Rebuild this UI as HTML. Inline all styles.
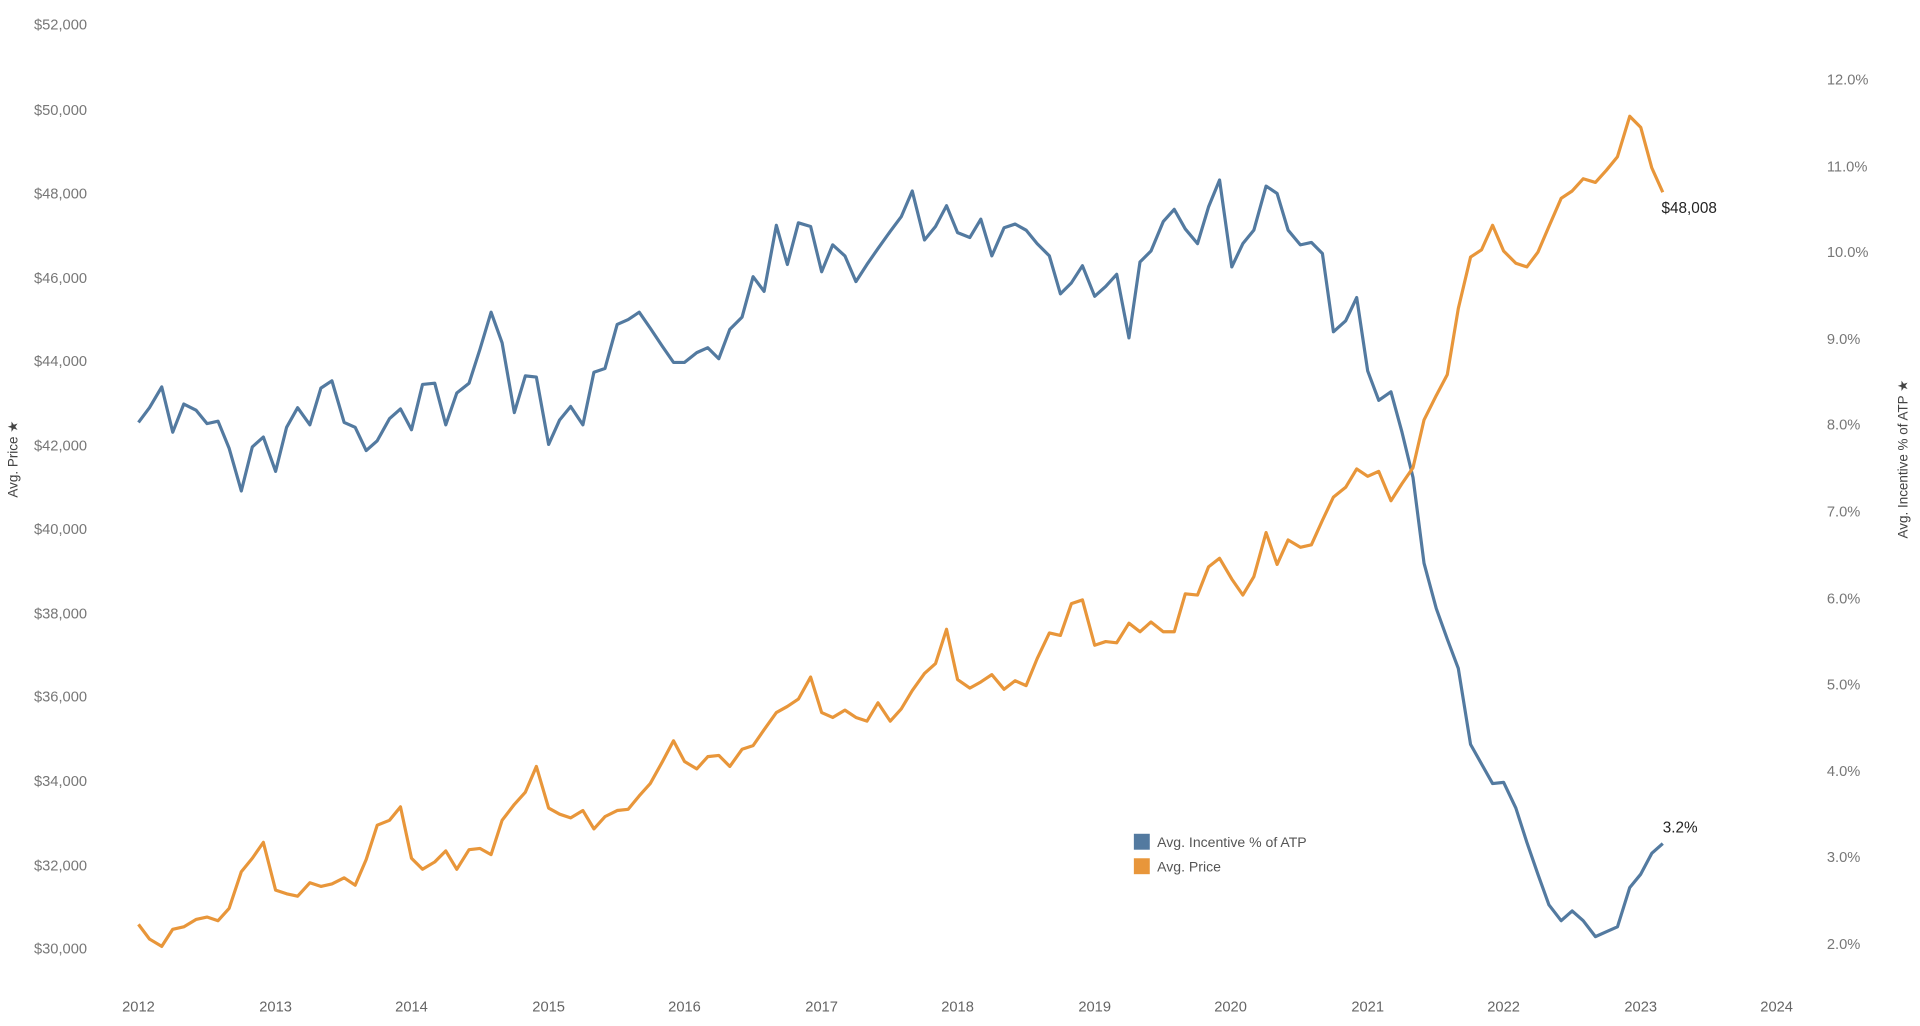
<!DOCTYPE html>
<html><head><meta charset="utf-8"><style>
html,body{margin:0;padding:0;background:#fff;}
svg{display:block;}
text{font-family:"Liberation Sans",sans-serif;}
</style></head><body>
<svg width="1920" height="1026" viewBox="0 0 1568 838" xmlns="http://www.w3.org/2000/svg">
<g font-size="12" fill="#777" text-anchor="end">
<text x="71" y="24">$52,000</text>
<text x="71" y="94">$50,000</text>
<text x="71" y="162">$48,000</text>
<text x="71" y="231">$46,000</text>
<text x="71" y="299">$44,000</text>
<text x="71" y="368">$42,000</text>
<text x="71" y="436">$40,000</text>
<text x="71" y="505">$38,000</text>
<text x="71" y="573">$36,000</text>
<text x="71" y="642">$34,000</text>
<text x="71" y="711">$32,000</text>
<text x="71" y="779">$30,000</text>
</g>
<g font-size="12" fill="#777" text-anchor="start">
<text x="1492" y="69">12.0%</text>
<text x="1492" y="140">11.0%</text>
<text x="1492" y="210">10.0%</text>
<text x="1492" y="281">9.0%</text>
<text x="1492" y="351">8.0%</text>
<text x="1492" y="422">7.0%</text>
<text x="1492" y="493">6.0%</text>
<text x="1492" y="563">5.0%</text>
<text x="1492" y="634">4.0%</text>
<text x="1492" y="704">3.0%</text>
<text x="1492" y="775">2.0%</text>
</g>
<g font-size="12" fill="#666" text-anchor="middle">
<text x="113" y="826">2012</text><text x="225" y="826">2013</text><text x="336" y="826">2014</text>
<text x="448" y="826">2015</text><text x="559" y="826">2016</text><text x="671" y="826">2017</text>
<text x="782" y="826">2018</text><text x="894" y="826">2019</text><text x="1005" y="826">2020</text>
<text x="1117" y="826">2021</text><text x="1228" y="826">2022</text><text x="1340" y="826">2023</text>
<text x="1451" y="826">2024</text>
</g>
<text transform="translate(14,375) rotate(-90)" font-size="11" fill="#444" text-anchor="middle">Avg. Price ★</text>
<text transform="translate(1558,375) rotate(-90)" font-size="11" fill="#444" text-anchor="middle">Avg. Incentive % of ATP ★</text>
<polyline fill="none" stroke="#537aa0" stroke-width="2.6" stroke-linejoin="round" points="113,345 122,333 132,316 141,353 150,330 160,335 169,346 178,344 187,366 197,401 206,365 215,357 225,385 234,349 243,333 253,347 262,317 271,311 281,345 290,349 299,368 308,360 318,342 327,334 336,351 345,314 355,313 364,347 373,321 383,313 392,285 401,255 410,280 420,337 429,307 438,308 448,363 457,343 466,332 476,347 485,304 494,301 504,265 513,261 522,255 531,268 541,283 550,296 559,296 569,288 578,284 587,293 596,269 606,259 615,226 624,238 634,184 643,216 652,182 662,185 671,222 680,200 690,209 699,230 708,216 717,203 727,189 736,177 745,156 755,196 764,185 773,168 782,190 792,194 801,179 810,209 820,186 829,183 838,188 847,199 857,209 866,240 875,231 884,217 894,242 903,234 912,224 922,276 931,214 940,205 950,181 959,171 968,187 978,199 987,169 996,147 1006,218 1015,199 1024,188 1034,152 1043,158 1052,188 1062,200 1071,198 1080,207 1089,271 1099,262 1108,243 1117,303 1126,327 1136,320 1145,353 1154,390 1163,460 1173,497 1182,522 1191,546 1201,608 1210,624 1219,640 1228,639 1238,660 1247,688 1256,714 1265,739 1275,752 1284,744 1293,752 1303,765 1312,761 1321,757 1331,725 1340,714 1349,697 1358,689"/>
<polyline fill="none" stroke="#e8963a" stroke-width="2.6" stroke-linejoin="round" points="113,755 122,767 132,773 141,759 150,757 160,751 169,749 178,752 187,742 197,712 206,701 215,688 225,727 234,730 243,732 253,721 262,724 271,722 281,717 290,723 299,702 308,674 318,670 327,659 336,701 345,710 355,704 364,695 373,710 383,694 392,693 401,698 410,670 420,657 429,647 438,626 448,660 457,665 466,668 476,662 485,677 494,667 504,662 513,661 522,650 531,640 541,622 550,605 559,622 569,628 578,618 587,617 596,626 606,612 615,609 624,596 634,582 643,577 652,571 662,553 671,582 680,586 690,580 699,586 708,589 717,574 727,589 736,579 745,564 755,550 764,542 773,514 782,555 792,562 801,557 810,551 820,563 829,556 838,560 847,538 857,517 866,519 875,493 884,490 894,527 903,524 912,525 922,509 931,516 940,508 950,516 959,516 968,485 978,486 987,463 996,456 1006,473 1015,486 1024,471 1034,435 1043,461 1052,441 1062,447 1071,445 1080,425 1089,406 1099,398 1108,383 1117,389 1126,385 1136,409 1145,395 1154,382 1163,343 1173,323 1182,306 1191,252 1201,210 1210,204 1219,184 1228,205 1238,215 1247,218 1256,206 1265,185 1275,162 1284,156 1293,146 1303,149 1312,139 1321,128 1331,95 1340,104 1349,137 1358,157"/>
<text x="1357" y="174" font-size="12.5" fill="#222">$48,008</text>
<text x="1358" y="680" font-size="12.5" fill="#222">3.2%</text>
<rect x="926" y="681" width="13" height="13" fill="#537aa0"/>
<rect x="926" y="701" width="13" height="13" fill="#e8963a"/>
<text x="945" y="692" font-size="11.5" fill="#555">Avg. Incentive % of ATP</text>
<text x="945" y="712" font-size="11.5" fill="#555">Avg. Price</text>
</svg>
</body></html>
